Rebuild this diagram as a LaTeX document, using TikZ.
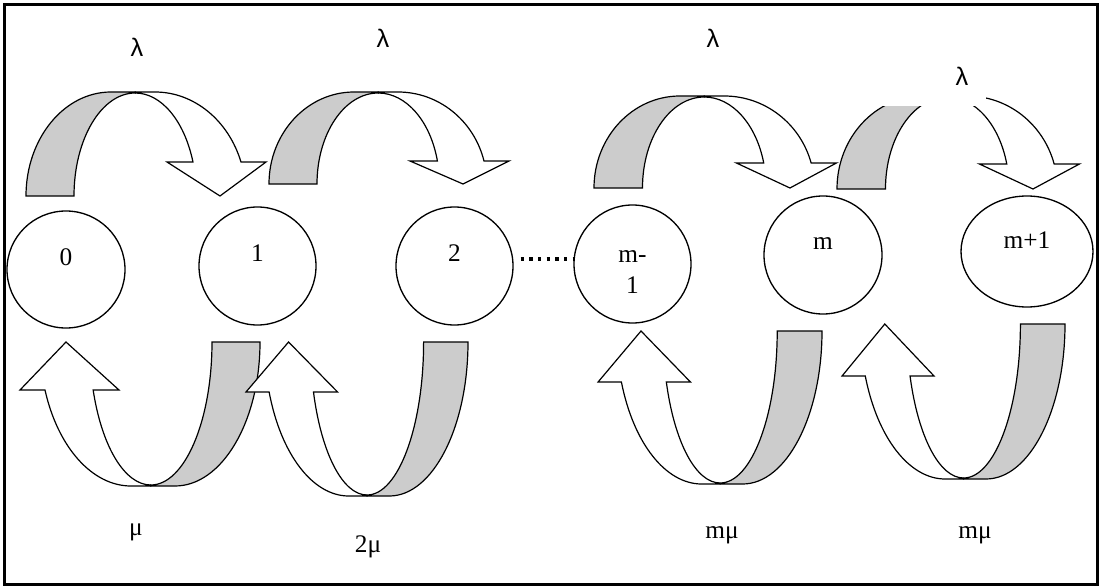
\documentclass[tikz,border=0pt]{standalone}
\usepackage{fontspec}
\setmainfont{Liberation Serif}
\newfontfamily\lamfont{Liberation Sans}
\usetikzlibrary{shapes.geometric}
\definecolor{bandgray}{RGB}{204,204,204}
% curved block arrow: tail at (0,0), rises to height #1, comes down with a head of height #2
\newcommand{\bentarrow}[2]{%
  \pgfmathsetmacro{\baHi}{#1-1}%
  \pgfmathsetmacro{\baTw}{asin(#2/#1)}%
  \pgfmathsetmacro{\baRw}{86/cos(\baTw)}%
  \pgfmathsetmacro{\baTi}{asin(#2/\baHi)}%
  \pgfmathsetmacro{\baXe}{109.2+61.2*cos(\baTi)}%
  \filldraw[arrowline, fill=bandgray] (0,0) arc[start angle=180,end angle=90,x radius=85,y radius=#1]
    -- (109.2,#1) -- (109.2,\baHi) arc[start angle=90,end angle=180,x radius=61.2,y radius=\baHi] -- cycle;
  \filldraw[arrowline, fill=white] (109.2,\baHi) -- (109.2,#1) -- (129,#1)
    arc[start angle=90,end angle=\baTw,x radius=\baRw,y radius=#1]
    -- (240,#2) -- (194,0) -- (141,#2) -- (\baXe,#2)
    arc[start angle=\baTi,end angle=90,x radius=61.2,y radius=\baHi] -- cycle;
}
\begin{document}
\begin{tikzpicture}[x=0.75pt,y=-0.75pt,
  arrowline/.style={line width=0.9pt, line join=miter},
  state/.style={ellipse, draw, line width=1pt, inner sep=0pt,
    font=\fontsize{19}{23.25}\selectfont},
  lam/.style={font=\lamfont\fontsize{19}{22}\selectfont, inner sep=0pt, anchor=base},
  rate/.style={font=\fontsize{19}{23.25}\selectfont, inner sep=0pt, anchor=base},
  dotline/.style={line width=2.6pt, dash pattern=on 2.6pt off 3.9pt}]
\useasboundingbox (0,0) rectangle (1102,588);
\draw[line width=2.25pt] (4.5,4.5) rectangle (1097.5,584.5);

% upper arrows (lambda)
\begin{scope}[shift={(26,196)},yscale=-1] \bentarrow{104}{34} \end{scope}
\begin{scope}[shift={(269,184)},yscale=-1] \bentarrow{92}{23} \end{scope}
\begin{scope}[shift={(594,188)},xscale=1.01,yscale=-1] \bentarrow{92}{25} \end{scope}
\begin{scope}[shift={(837,189)},xscale=1.01,yscale=-1] \bentarrow{93}{25} \end{scope}
\fill[white] (880,48) rectangle (986,106);

% lower arrows (mu)
\begin{scope}[shift={(260,342)},xscale=-1] \bentarrow{144}{48} \end{scope}
\begin{scope}[shift={(468,342)},xscale=-0.925] \bentarrow{154}{50} \end{scope}
\begin{scope}[shift={(822,331)},xscale=-0.933] \bentarrow{153}{51} \end{scope}
\begin{scope}[shift={(1065,324)},xscale=-0.929] \bentarrow{155}{52} \end{scope}

% states
\node[state, minimum width=88.5pt, minimum height=87.75pt, text height=13.5pt, text depth=20.25pt] (n0) at (66,269.5) {0};
\node[state, minimum width=87.75pt, minimum height=88.5pt, text height=13.5pt, text depth=21pt] (n1) at (257.5,266) {1};
\node[state, minimum width=87.75pt, minimum height=88.5pt, text height=13.5pt, text depth=21pt] (n2) at (454.5,266) {2};
\node[state, minimum width=87.75pt, minimum height=88.5pt, align=center] (nm1) at (632.5,264) {\rule{0pt}{20.5pt}m-\\1};
\node[state, minimum width=88.5pt, minimum height=88.5pt, text height=13.5pt, text depth=22.5pt] (nm) at (823,255) {m};
\node[state, minimum width=99pt, minimum height=83.25pt, text height=13.5pt, text depth=18.75pt] (nmp1) at (1027,251.5) {m+1};

\draw[dotline] ([shift={(7,-7)}]n2.east) -- ([shift={(1,-5)}]nm1.west);

% rate labels
\node[lam] (lam1) at (137,57) {λ};
\node[lam] (lam2) at (383,48) {λ};
\node[lam] (lam3) at (713,48) {λ};
\node[lam] (lam4) at (962,86) {λ};
\node[rate] (mu1) at (136,535) {μ};
\node[rate] (mu2) at (368,552) {2μ};
\node[rate] (mu3) at (722,538) {mμ};
\node[rate] (mu4) at (975,538) {mμ};
\end{tikzpicture}
\end{document}
